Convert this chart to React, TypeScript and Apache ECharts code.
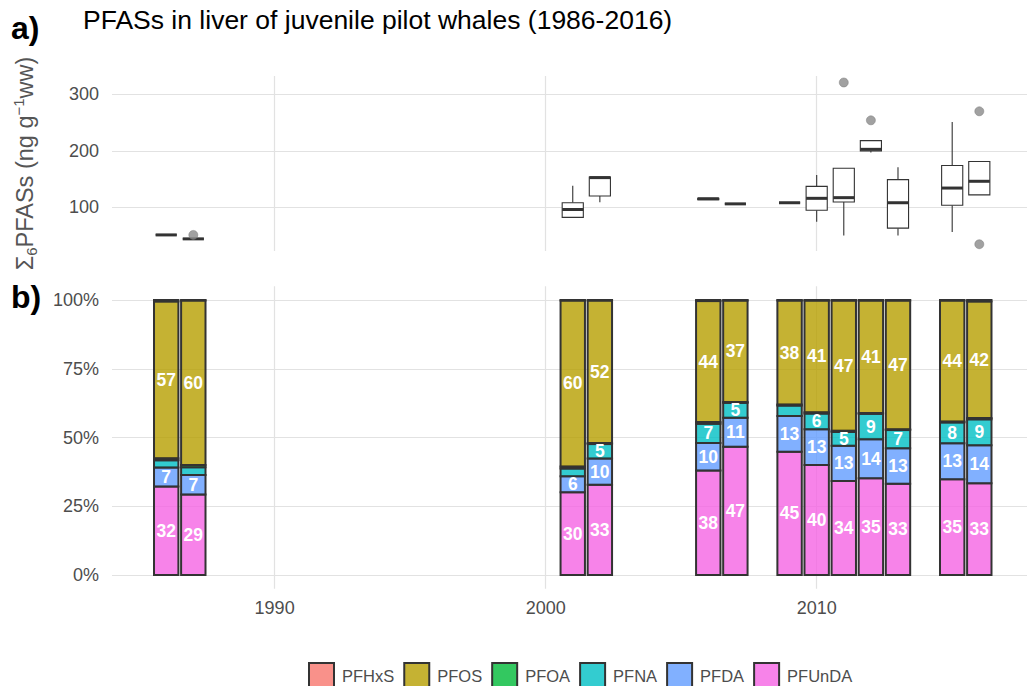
import React, { useEffect, useRef } from "react";
import * as echarts from "echarts";

// Sampling years shared by both panels
const years = [1986, 1987, 2001, 2002, 2006, 2007, 2009, 2010, 2011, 2012, 2013, 2015, 2016];

// Panel a: ΣPFAS boxplot statistics per year (ng/g ww)
const whiskerLow = [51, 44, 82, 109, 113.5, 106, 108, 74.5, 50, 197, 50, 56, 122];
const quartile1 = [51, 44, 82, 120, 113.5, 106, 108, 94.7, 109.4, 199.6, 63, 103.5, 122];
const medianVal = [51, 44, 96, 152.5, 115, 106, 108, 115.8, 117, 202.6, 108, 134, 146];
const quartile3 = [51, 44, 108, 153.6, 116, 106, 108, 137, 169, 218, 149, 174, 181];
const whiskerHigh = [51, 44, 138, 153.6, 116, 106, 108, 157, 169, 218, 171, 251, 181];

const outlierYears = [1987, 2011, 2012, 2016, 2016];
const outlierValues = [51, 321, 254, 270, 34.5];

// Panel b: percentage composition per compound
const compounds = ["PFHxS", "PFOS", "PFOA", "PFNA", "PFDA", "PFUnDA"];
const pfhxs = [0.5, 0.2, 0.2, 0.2, 0.4, 0.2, 0.2, 0.2, 0.2, 0.2, 0.2, 0.2, 0.5];
const pfos = [57.0, 59.8, 60.3, 51.8, 44.0, 36.9, 37.8, 40.6, 47.3, 40.9, 46.8, 44.0, 42.4];
const pfoa = [0.8, 0.8, 0.8, 0.4, 0.6, 0.3, 0.4, 0.5, 0.5, 0.3, 0.3, 0.3, 0.5];
const pfna = [2.6, 2.8, 2.8, 5.2, 7.0, 5.4, 3.8, 5.7, 5.0, 9.2, 6.6, 7.6, 9.4];
const pfda = [6.9, 7.1, 5.8, 9.6, 10.0, 10.6, 13.0, 13.0, 12.8, 14.2, 12.9, 13.1, 13.8];
const pfunda = [32.2, 29.3, 30.1, 32.8, 38.0, 46.6, 44.8, 40.0, 34.2, 35.2, 33.2, 34.8, 33.4];

const compoundColors: Record<string, string> = {
  PFHxS: "rgba(248,118,109,0.8)",
  PFOS: "rgba(183,159,0,0.8)",
  PFOA: "rgba(0,186,56,0.8)",
  PFNA: "rgba(0,191,196,0.8)",
  PFDA: "rgba(97,156,255,0.8)",
  PFUnDA: "rgba(245,100,227,0.8)",
};

const yearTicks = [1990, 2000, 2010];
const concTicks = [100, 200, 300];
const pctTicks = [0, 25, 50, 75, 100];

const FONT = "Liberation Sans, Arial, Helvetica, sans-serif";
const TICK_COLOR = "#4d4d4d";
const GRID_COLOR = "#e2e2e2";
const BORDER = "#333333";
const X_MIN = 1984;
const X_MAX = 2017.76;
const BOX_WIDTH = 0.78;
const BAR_WIDTH = 0.9;

export default function App() {
  const ref = useRef<HTMLDivElement>(null);

  useEffect(() => {
    if (!ref.current) return;
    const chart = echarts.init(ref.current, undefined, { renderer: "svg" });

    const boxData = years.map((y, i) => [
      y,
      whiskerLow[i],
      quartile1[i],
      medianVal[i],
      quartile3[i],
      whiskerHigh[i],
    ]);
    const outlierData = outlierYears.map((y, i) => [y, outlierValues[i]]);

    // stacking order: bottom first
    const stackOrder: [string, number[]][] = [
      ["PFUnDA", pfunda],
      ["PFDA", pfda],
      ["PFNA", pfna],
      ["PFOA", pfoa],
      ["PFOS", pfos],
      ["PFHxS", pfhxs],
    ];

    const cumulative = years.map(() => 0);
    const labelData: number[][] = [];
    const barSeries = stackOrder.map(([name, vals]) => {
      const data = years.map((y, i) => {
        const lo = cumulative[i];
        const hi = lo + vals[i];
        cumulative[i] = hi;
        if (Math.round(vals[i]) >= 5) labelData.push([y, (lo + hi) / 2, vals[i]]);
        return [y, lo, hi];
      });
      const fill = compoundColors[name];
      return {
        name,
        type: "custom",
        xAxisIndex: 1,
        yAxisIndex: 1,
        data,
        encode: { x: 0, y: [1, 2] },
        itemStyle: { color: fill, borderColor: BORDER, borderWidth: 2 },
        renderItem: (params: any, api: any) => {
          const x = api.value(0);
          const [cx, yLo] = api.coord([x, api.value(1)]);
          const yHi = api.coord([x, api.value(2)])[1];
          const w = api.size([BAR_WIDTH, 0])[0];
          return {
            type: "rect",
            shape: { x: cx - w / 2, y: yHi, width: w, height: yLo - yHi },
            style: { fill, stroke: BORDER, lineWidth: 2 },
          };
        },
      };
    });

    const labelSeries = {
      name: "labels",
      type: "custom",
      xAxisIndex: 1,
      yAxisIndex: 1,
      data: labelData,
      encode: { x: 0, y: 1 },
      z: 5,
      renderItem: (params: any, api: any) => {
        const [cx, cy] = api.coord([api.value(0), api.value(1)]);
        return {
          type: "text",
          x: cx,
          y: cy,
          style: {
            text: String(Math.round(api.value(2))),
            fill: "#ffffff",
            fontSize: 17.5,
            fontWeight: "bold",
            fontFamily: FONT,
            align: "center",
            verticalAlign: "middle",
          },
        };
      },
    };

    const splitLineStyle = { show: true, lineStyle: { color: GRID_COLOR, width: 1.2 } };

    const option: any = {
      animation: false,
      textStyle: { fontFamily: FONT },
      grid: [
        { left: 112, width: 915, top: 76, height: 175 },
        { left: 112, width: 915, top: 286.25, height: 302.5 },
      ],
      xAxis: [
        {
          gridIndex: 0,
          type: "value",
          min: X_MIN,
          max: X_MAX,
          axisLine: { show: false },
          axisTick: { show: false, customValues: yearTicks },
          axisLabel: { show: false, customValues: yearTicks },
          splitLine: splitLineStyle,
        },
        {
          gridIndex: 1,
          type: "value",
          min: X_MIN,
          max: X_MAX,
          axisLine: { show: false },
          axisTick: { show: false, customValues: yearTicks },
          axisLabel: {
            customValues: yearTicks,
            formatter: (v: number) => String(v),
            color: TICK_COLOR,
            fontSize: 18,
            margin: 10,
            fontFamily: FONT,
          },
          splitLine: splitLineStyle,
        },
      ],
      yAxis: [
        {
          gridIndex: 0,
          type: "value",
          min: 22.5,
          max: 332.5,
          axisLine: { show: false },
          axisTick: { show: false, customValues: concTicks },
          axisLabel: {
            customValues: concTicks,
            color: TICK_COLOR,
            fontSize: 18,
            margin: 13,
            fontFamily: FONT,
          },
          splitLine: splitLineStyle,
        },
        {
          gridIndex: 1,
          type: "value",
          min: -5,
          max: 105,
          axisLine: { show: false },
          axisTick: { show: false, customValues: pctTicks },
          axisLabel: {
            customValues: pctTicks,
            formatter: "{value}%",
            color: TICK_COLOR,
            fontSize: 18,
            margin: 13,
            fontFamily: FONT,
          },
          splitLine: splitLineStyle,
        },
      ],
      legend: {
        data: compounds,
        left: 303,
        top: 657,
        icon: "rect",
        itemWidth: 25,
        itemHeight: 25,
        itemGap: 9,
        itemStyle: { borderColor: BORDER, borderWidth: 2 },
        textStyle: {
          color: TICK_COLOR,
          fontSize: 16.5,
          fontFamily: FONT,
          padding: [0, 0, 0, 3],
        },
        selectedMode: false,
      },
      graphic: [
        {
          type: "text",
          left: 11,
          top: 12,
          style: { text: "a)", fontSize: 32, fontWeight: "bold", fill: "#000", fontFamily: FONT },
        },
        {
          type: "text",
          left: 11,
          top: 281,
          style: { text: "b)", fontSize: 32, fontWeight: "bold", fill: "#000", fontFamily: FONT },
        },
        {
          type: "text",
          left: 83,
          top: 6,
          style: {
            text: "PFASs in liver of juvenile pilot whales (1986-2016)",
            fontSize: 26.5,
            fill: "#000",
            fontFamily: FONT,
          },
        },
        {
          type: "text",
          x: 25,
          y: 163.5,
          rotation: Math.PI / 2,
          style: {
            text: "{a|Σ}{b|6}{a|PFASs (ng g}{c|−1}{a|ww)}",
            align: "center",
            verticalAlign: "middle",
            fill: "#555555",
            fontFamily: FONT,
            rich: {
              a: { fontSize: 23.5, lineHeight: 28, fill: "#555555", fontFamily: FONT },
              b: {
                fontSize: 15,
                lineHeight: 15,
                verticalAlign: "bottom",
                fill: "#555555",
                fontFamily: FONT,
              },
              c: {
                fontSize: 15,
                lineHeight: 15,
                verticalAlign: "top",
                fill: "#555555",
                fontFamily: FONT,
              },
            },
          },
        },
      ],
      series: [
        {
          name: "ΣPFAS",
          type: "custom",
          xAxisIndex: 0,
          yAxisIndex: 0,
          data: boxData,
          encode: { x: 0, y: [1, 2, 3, 4, 5] },
          clip: false,
          renderItem: (params: any, api: any) => {
            const x = api.value(0);
            const [cx, yLo] = api.coord([x, api.value(1)]);
            const yQ1 = api.coord([x, api.value(2)])[1];
            const yMed = api.coord([x, api.value(3)])[1];
            const yQ3 = api.coord([x, api.value(4)])[1];
            const yHi = api.coord([x, api.value(5)])[1];
            const half = api.size([BOX_WIDTH, 0])[0] / 2;
            const stroke = { stroke: BORDER, lineWidth: 1.1, fill: null };
            return {
              type: "group",
              children: [
                {
                  type: "line",
                  shape: { x1: cx, y1: yHi, x2: cx, y2: yQ3 },
                  style: stroke,
                },
                {
                  type: "line",
                  shape: { x1: cx, y1: yQ1, x2: cx, y2: yLo },
                  style: stroke,
                },
                {
                  type: "rect",
                  shape: { x: cx - half, y: yQ3, width: half * 2, height: yQ1 - yQ3 },
                  style: { fill: "#ffffff", stroke: BORDER, lineWidth: 1.1 },
                },
                {
                  type: "line",
                  shape: { x1: cx - half, y1: yMed, x2: cx + half, y2: yMed },
                  style: { stroke: BORDER, lineWidth: 3 },
                },
              ],
            };
          },
        },
        {
          name: "outliers",
          type: "scatter",
          xAxisIndex: 0,
          yAxisIndex: 0,
          data: outlierData,
          symbol: "circle",
          symbolSize: 9,
          itemStyle: { color: "#8a8a8a", borderColor: "#777777", borderWidth: 0.6 },
          z: 3,
        },
        ...barSeries,
        labelSeries,
      ],
    };

    chart.setOption(option);
    return () => chart.dispose();
  }, []);

  return (
    <div
      ref={ref}
      style={{ position: "fixed", left: 0, top: 0, width: 1027, height: 686, background: "#fff" }}
    />
  );
}
